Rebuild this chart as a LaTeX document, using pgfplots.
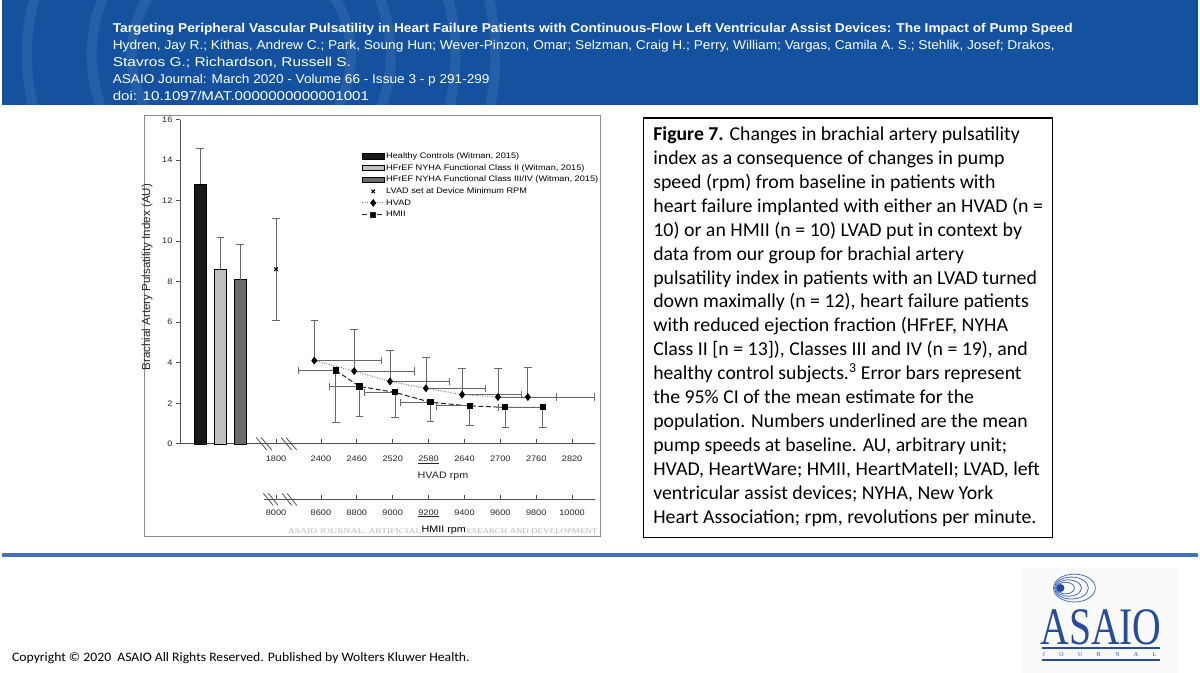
\documentclass[border=0pt]{standalone}
\usepackage{fontspec}
\usepackage{pgfplots}
\pgfplotsset{compat=1.18}
\setmainfont{Liberation Sans}
\newfontfamily\chartfont[FakeStretch=1.15]{Liberation Sans}
\newfontfamily\capfont{Carlito}
\newfontfamily\serifcap{Liberation Serif}
\definecolor{band}{RGB}{20,82,160}
\definecolor{logoblue}{RGB}{40,75,155}
\definecolor{ringblue}{RGB}{70,110,190}
\definecolor{sepblue}{RGB}{70,112,190}
\definecolor{errgray}{RGB}{105,105,105}
\definecolor{axgray}{RGB}{80,80,80}
\pgfplotsset{
  barlegend/.style={legend image code/.code={\draw[##1] (0pt,-2.7pt) rectangle (22pt,2.7pt);}},
  linelegend/.style={legend image code/.code={\draw[mark repeat=2,mark phase=2,##1] plot coordinates {(0pt,0pt) (11pt,0pt) (22pt,0pt)};}},
  errstyle/.style={
    error bars/error bar style={draw=errgray, line width=0.9pt, solid},
    error bars/error mark=-,
    error bars/error mark options={rotate=90, draw=errgray, line width=0.9pt, mark size=3.8pt, solid}},
}
\newcommand{\cl}[3]{\node[anchor=base west, inner sep=0pt, font=\capfont\fontsize{19.7}{22}\selectfont] at (653.3,#1) {\resizebox{#2pt}{\height}{#3}};}
\begin{document}
\begin{tikzpicture}
\begin{scope}[x=1pt,y=-1pt]
\fill[white] (0,0) rectangle (1200,675);
% header band
\begin{scope}
\clip (0,0) rectangle (1200,105);
\fill[band] (0,0) rectangle (1200,105);
\foreach \r in {110,150,215,255} \draw[white, opacity=0.08, line width=10pt] (240,55) circle[radius=\r pt];
\end{scope}
\node[anchor=base west, inner sep=0pt, text=white] at (111,33) {\resizebox{963pt}{9.3pt}{\bfseries Targeting Peripheral Vascular Pulsatility in Heart Failure Patients with Continuous-Flow Left Ventricular Assist Devices: The Impact of Pump Speed}};
\node[anchor=base west, inner sep=0pt, text=white] at (111,50) {\resizebox{945pt}{9.3pt}{Hydren, Jay R.; Kithas, Andrew C.; Park, Soung Hun; Wever-Pinzon, Omar; Selzman, Craig H.; Perry, William; Vargas, Camila A. S.; Stehlik, Josef; Drakos,}};
\node[anchor=base west, inner sep=0pt, text=white] at (111,67) {\resizebox{239pt}{9.3pt}{Stavros G.; Richardson, Russell S.}};
\node[anchor=base west, inner sep=0pt, text=white] at (111,84) {\resizebox{378pt}{9.3pt}{ASAIO Journal: March 2020 - Volume 66 - Issue 3 - p 291-299}};
\node[anchor=base west, inner sep=0pt, text=white] at (111,101) {\resizebox{257pt}{9.3pt}{doi: 10.1097/MAT.0000000000001001}};
% chart frame
\draw[black!45, line width=1.3pt] (142.7,116) rectangle (600.5,538.3);
% caption box
\draw[black, line width=1.2pt] (643.3,118.3) rectangle (1054.3,539);
\cl{141}{367.7}{\textbf{Figure 7.} Changes in brachial artery pulsatility}
\cl{165}{352.4}{index as a consequence of changes in pump}
\cl{189}{343.4}{speed (rpm) from baseline in patients with}
\cl{213}{391}{heart failure implanted with either an HVAD (n =}
\cl{237}{370}{10) or an HMII (n = 10) LVAD put in context by}
\cl{261}{311.7}{data from our group for brachial artery}
\cl{285}{385}{pulsatility index in patients with an LVAD turned}
\cl{309}{376.7}{down maximally (n = 12), heart failure patients}
\cl{333}{356}{with reduced ejection fraction (HFrEF, NYHA}
\cl{357}{375.7}{Class II [n = 13]), Classes III and IV (n = 19), and}
\cl{381}{369.4}{healthy control subjects.\textsuperscript{3} Error bars represent}
\cl{405}{321.7}{the 95\% CI of the mean estimate for the}
\cl{429}{375.7}{population. Numbers underlined are the mean}
\cl{453}{355}{pump speeds at baseline. AU, arbitrary unit;}
\cl{477}{387.7}{HVAD, HeartWare; HMII, HeartMateII; LVAD, left}
\cl{501}{341}{ventricular assist devices; NYHA, New York}
\cl{525}{384.4}{Heart Association; rpm, revolutions per minute.}
\end{scope}
% main axis (HVAD rpm scale; left part holds the bars and the 1800 rpm point)
\begin{axis}[
  at={(179pt,-445.3pt)}, anchor=south west, scale only axis, width=416pt, height=325.3pt,
  xmin=2165, xmax=2858.3, ymin=0, ymax=16, clip=false,
  axis x line=bottom, axis y line=left,
  axis line style={-, draw=axgray, line width=0.8pt},
  xtick={2325,2400,2460,2520,2580,2640,2700,2760,2820},
  xticklabels={1800,2400,2460,2520,\underline{2580},2640,2700,2760,2820},
  ytick={0,2,...,16},
  xtick align=inside, ytick align=outside,
  major tick length=4.5pt,
  tick style={draw=axgray, line width=0.7pt},
  tick label style={font=\chartfont\fontsize{8}{9}\selectfont, text=black!85},
  /pgf/number format/assume math mode=true,
  xticklabel style={yshift=-8.8pt},
  ylabel={Brachial Artery Pulsatility Index (AU)},
  ylabel style={font=\fontsize{11.6}{13}\selectfont, text=black!85, at={(axis description cs:-0.0805,0.514)}, anchor=center},
  legend style={draw=none, fill=none, at={(axis description cs:0.437,0.904)}, anchor=north west,
    font=\chartfont\fontsize{8}{9}\selectfont, row sep=0.9pt, inner sep=0pt,
    nodes={inner sep=1.5pt, text height=6pt, text depth=1.8pt},
    /tikz/column 2/.style={column sep=3pt}},
  legend cell align=left,
  linelegend, errstyle,
]
\addplot[ybar, bar width=12.3pt, bar shift=0pt, fill=black!90, draw=black, line width=0.6pt, barlegend,
  error bars/.cd, y dir=plus, y explicit]
  coordinates {(2198,12.82) +- (0,1.75)};
\addlegendentry{Healthy Controls (Witman, 2015)}
\addplot[ybar, bar width=12.3pt, bar shift=0pt, fill=black!25, draw=black, line width=0.6pt, barlegend,
  error bars/.cd, y dir=plus, y explicit]
  coordinates {(2231.7,8.61) +- (0,1.57)};
\addlegendentry{HFrEF NYHA Functional Class II (Witman, 2015)}
\addplot[ybar, bar width=12.3pt, bar shift=0pt, fill=black!58, draw=black, line width=0.6pt, barlegend,
  error bars/.cd, y dir=plus, y explicit]
  coordinates {(2264.7,8.10) +- (0,1.75)};
\addlegendentry{HFrEF NYHA Functional Class III/IV (Witman, 2015)}
\addplot[only marks, mark=x, mark size=2.5pt, line width=1.1pt, black,
  error bars/.cd, y dir=both, y explicit]
  coordinates {(2325,8.62) +- (0,2.52)};
\addlegendentry{LVAD set at Device Minimum RPM}
\addplot[black!50, line width=1pt, dash pattern=on 1pt off 1.5pt, mark=diamond*, mark size=3.2pt,
  mark options={solid, fill=black, draw=black},
  error bars/.cd, x dir=plus, x explicit, y dir=plus, y explicit]
  coordinates {
  (2388.9,4.11) +- (112,1.97)
  (2455.6,3.59) +- (100,2.05)
  (2515.6,3.08) +- (100,1.53)
  (2575.6,2.74) +- (99.4,1.51)
  (2636.0,2.43) +- (100,1.27)
  (2696.0,2.31) +- (98.4,1.39)
  (2746.0,2.31) +- (111,1.46)
  };
\addlegendentry{HVAD}
\addlegendimage{black!85, line width=1pt, dash pattern=on 5pt off 2.5pt, mark=square*, mark size=2.6pt, mark options={solid, fill=black}}
\addlegendentry{HMII}
\end{axis}
% HMII data on the HMII rpm scale
\begin{axis}[
  at={(179pt,-445.3pt)}, anchor=south west, scale only axis, width=416pt, height=325.3pt,
  xmin=7816.7, xmax=10127.8, ymin=0, ymax=16, clip=false, hide axis, errstyle,
]
\addplot[black!85, line width=1pt, dash pattern=on 5pt off 2.5pt, mark=square*, mark size=2.6pt,
  mark options={solid, fill=black, draw=black},
  error bars/.cd, x dir=minus, x explicit, y dir=minus, y explicit]
  coordinates {
  (8683.3,3.62) +- (209.4,2.57)
  (8815.0,2.83) +- (169,1.50)
  (9012.8,2.54) +- (172.2,1.25)
  (9211.0,2.05) +- (170.4,0.94)
  (9429.4,1.87) +- (186.6,0.98)
  (9627.8,1.80) +- (37,1.01)
  (9837.2,1.80) +- (209.4,1.01)
  };
\end{axis}
% HMII rpm axis
\begin{axis}[
  at={(263pt,-501pt)}, anchor=south west, scale only axis, width=332pt, height=10pt,
  xmin=8283.3, xmax=10127.8, ymin=0, ymax=1,
  axis x line=bottom, axis y line=none, ytick=\empty, scaled x ticks=false,
  axis line style={-, draw=axgray, line width=0.8pt},
  xtick={8350,8600,8800,9000,9200,9400,9600,9800,10000},
  xticklabels={8000,8600,8800,9000,\underline{9200},9400,9600,9800,10000},
  xtick align=inside, major tick length=4.5pt,
  tick style={draw=axgray, line width=0.7pt},
  tick label style={font=\chartfont\fontsize{8}{9}\selectfont, text=black!85},
  xticklabel style={yshift=-6.6pt},
]
\addplot[draw=none] coordinates {(9000,0)};
\end{axis}
\begin{scope}[x=1pt,y=-1pt]
% axis breaks
\begin{scope}[draw=axgray, line width=0.8pt]
\draw (255,439) -- (265.7,451.5); \draw (260,439) -- (270.7,451.5);
\draw (280,439) -- (290.7,451.5); \draw (285,439) -- (295.7,451.5);
\draw (262.3,495) -- (272,507); \draw (267.3,495) -- (277,507);
\draw (281,495) -- (290.7,507); \draw (286,495) -- (295.7,507);
\end{scope}
% axis titles and watermark
\node[font=\chartfont\fontsize{9.4}{11}\selectfont, text=black!85] at (442.5,478) {HVAD rpm};
\node[anchor=base east, inner sep=0pt, text=black!28] at (421,535.5) {\resizebox{134pt}{4.8pt}{\serifcap ASAIO JOURNAL: ARTIFICIAL}};
\node[anchor=base west, inner sep=0pt, text=black!28] at (466,535.5) {\resizebox{131pt}{4.8pt}{\serifcap ESEARCH AND DEVELOPMENT}};
\node[font=\chartfont\fontsize{9.4}{11}\selectfont, text=black] at (443.3,532.5) {HMII rpm};
% separator
\draw[sepblue, line width=4pt] (0,557) -- (1200,557);
% copyright
\node[anchor=base west, inner sep=0pt] at (10,664) {\resizebox{459pt}{9pt}{\capfont Copyright © 2020\ \ ASAIO All Rights Reserved. Published by Wolters Kluwer Health.}};
% logo
\fill[black!2] (1023,570) rectangle (1180,675);
\begin{scope}[ringblue, line width=0.8pt]
\draw (1076,590) ellipse[x radius=21pt, y radius=14pt];
\draw (1073,590) ellipse[x radius=17pt, y radius=11pt];
\draw (1070,590) ellipse[x radius=13pt, y radius=8.3pt];
\draw (1067,590) ellipse[x radius=9pt, y radius=5.8pt];
\end{scope}
\fill[logoblue] (1062,590) circle[radius=4pt];
\node[anchor=base west, inner sep=0pt, text=logoblue] at (1041.7,646.7) {\resizebox{121.6pt}{35pt}{\serifcap ASAIO}};
\draw[logoblue, line width=1.8pt] (1043,650.5) -- (1162,650.5);
\draw[logoblue, line width=1.8pt] (1043,662.5) -- (1162,662.5);
\node[text=logoblue, inner sep=0pt, anchor=base west, font=\serifcap\fontsize{6}{7}\selectfont] at (1044,659) {\makebox[114pt][s]{J\hfill O\hfill U\hfill R\hfill N\hfill A\hfill L}};
\end{scope}
\end{tikzpicture}
\end{document}
